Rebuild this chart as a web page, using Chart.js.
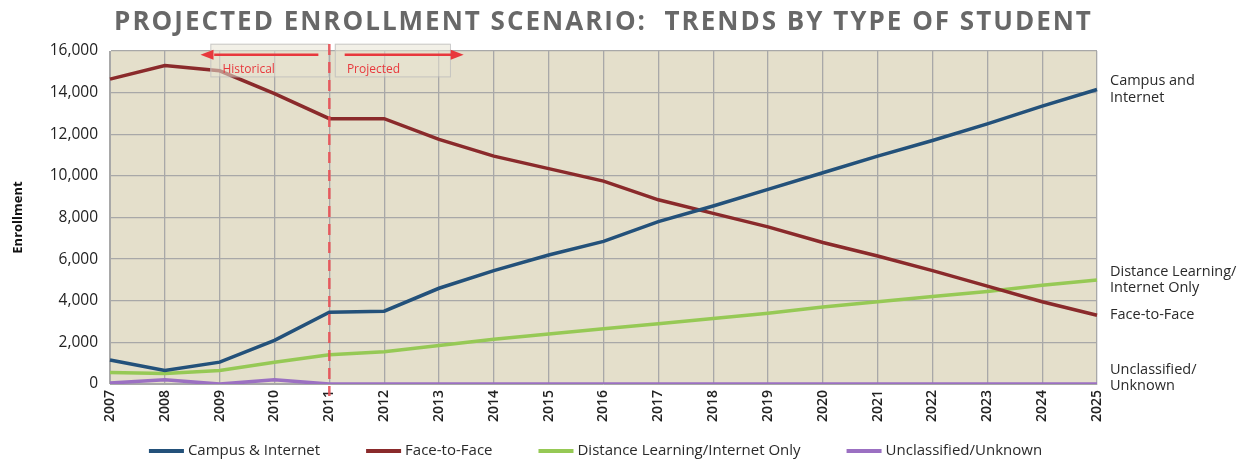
<!DOCTYPE html>
<html>
<head>
<meta charset="utf-8">
<script src="https://cdn.jsdelivr.net/npm/chart.js@4.4.1/dist/chart.umd.min.js"></script>
<style>
  html, body { margin: 0; padding: 0; background: #fff; }
</style>
</head>
<body>
<canvas id="enroll" width="1249" height="462"></canvas>
<script>
const years = ['2007','2008','2009','2010','2011','2012','2013','2014','2015','2016',
               '2017','2018','2019','2020','2021','2022','2023','2024','2025'];

const campusInternet = [1150, 650, 1050, 2100, 3450, 3500, 4600, 5450, 6200, 6850,
                        7800, 8550, 9350, 10150, 10950, 11700, 12500, 13350, 14150];
const faceToFace     = [14650, 15300, 15050, 13950, 12750, 12750, 11750, 10950, 10350, 9750,
                        8850, 8200, 7550, 6800, 6150, 5450, 4700, 3950, 3300];
const distanceOnly   = [550, 500, 650, 1050, 1400, 1550, 1850, 2150, 2400, 2650,
                        2900, 3150, 3400, 3700, 3950, 4200, 4450, 4750, 5000];
const unclassified   = [50, 200, 0, 200, 0, 0, 0, 0, 0, 0,
                        0, 0, 0, 0, 0, 0, 0, 0, 0];

const seriesNames = ['Campus & Internet', 'Face-to-Face', 'Distance Learning/Internet Only', 'Unclassified/Unknown'];
const endLabels = [['Campus and', 'Internet'], ['Face-to-Face'], ['Distance Learning/', 'Internet Only'], ['Unclassified/', 'Unknown']];

const chartTitle = 'PROJECTED ENROLLMENT SCENARIO:  TRENDS BY TYPE OF STUDENT';
const yMax = 16000;
const yStep = 2000;
const splitYear = '2011';

const FONT = "'Open Sans', 'DejaVu Sans', sans-serif";

// beige plot area
const plotBackground = {
  id: 'plotBackground',
  beforeDraw(chart) {
    const a = chart.chartArea, ctx = chart.ctx;
    ctx.save();
    ctx.fillStyle = '#e4dfcb';
    ctx.fillRect(a.left, a.top, a.right - a.left, a.bottom - a.top);
    ctx.restore();
  }
};

// spaced-out title over the plot
const spacedTitle = {
  id: 'spacedTitle',
  afterDraw(chart) {
    const ctx = chart.ctx, a = chart.chartArea;
    ctx.save();
    ctx.font = 'bold 26px ' + FONT;
    ctx.fillStyle = '#686868';
    ctx.letterSpacing = '2px';
    ctx.textAlign = 'center';
    ctx.textBaseline = 'alphabetic';
    ctx.fillText(chartTitle, (a.left + a.right) / 2, 30);
    ctx.restore();
  }
};

// dashed divider + Historical / Projected markers
const splitMarker = {
  id: 'splitMarker',
  afterDatasetsDraw(chart) {
    const ctx = chart.ctx, xs = chart.scales.x, ys = chart.scales.y;
    const i0 = years.indexOf(splitYear);
    const xp = v => xs.getPixelForValue(i0 + v);
    const x = xp(0);
    const red = '#e8383d';

    ctx.save();
    // boxes
    ctx.strokeStyle = 'rgba(190,190,190,0.8)';
    ctx.lineWidth = 1;
    ctx.fillStyle = 'rgba(232,228,212,0.55)';
    const bTop = ys.getPixelForValue(16350), bBot = ys.getPixelForValue(14780);
    [[-2.17, -0.02], [0.1, 2.2]].forEach(([a, b]) => {
      ctx.fillRect(xp(a), bTop, xp(b) - xp(a), bBot - bTop);
      ctx.strokeRect(xp(a) + 0.5, bTop + 0.5, xp(b) - xp(a), bBot - bTop);
    });

    // arrows
    const ay = ys.getPixelForValue(15820);
    ctx.strokeStyle = red;
    ctx.fillStyle = red;
    ctx.lineWidth = 2.5;
    ctx.beginPath();
    ctx.moveTo(xp(-0.2), ay); ctx.lineTo(xp(-2.1), ay);
    ctx.moveTo(xp(0.28), ay); ctx.lineTo(xp(2.3), ay);
    ctx.stroke();
    const head = (tip, dir) => {
      ctx.beginPath();
      ctx.moveTo(tip, ay);
      ctx.lineTo(tip - dir * 13, ay - 5);
      ctx.lineTo(tip - dir * 13, ay + 5);
      ctx.closePath();
      ctx.fill();
    };
    head(xp(-2.35), -1);
    head(xp(2.45), 1);

    ctx.font = '12px ' + FONT;
    ctx.textBaseline = 'alphabetic';
    ctx.fillText('Historical', xp(-1.95), ys.getPixelForValue(14960));
    ctx.fillText('Projected', xp(0.32), ys.getPixelForValue(14960));

    // dashed divider
    ctx.strokeStyle = 'rgba(232,80,85,0.9)';
    ctx.lineWidth = 2.5;
    ctx.setLineDash([11, 7]);
    ctx.beginPath();
    ctx.moveTo(x, chart.chartArea.top - 7);
    ctx.lineTo(x, chart.chartArea.bottom + 12);
    ctx.stroke();
    ctx.restore();
  }
};

// labels at the end of each line
const endLabelPlugin = {
  id: 'endLabelPlugin',
  afterDraw(chart) {
    const ctx = chart.ctx, ys = chart.scales.y;
    const x = chart.chartArea.right + 13;
    ctx.save();
    ctx.font = '14.5px ' + FONT;
    ctx.fillStyle = '#2a2a2a';
    ctx.textBaseline = 'middle';
    chart.data.datasets.forEach((ds, i) => {
      const lines = endLabels[i];
      const yc = ys.getPixelForValue(ds.data[ds.data.length - 1]) - (i === 3 ? 6 : 0);
      const lh = 16.5;
      lines.forEach((t, k) => {
        ctx.fillText(t, x, yc + (k - (lines.length - 1) / 2) * lh);
      });
    });
    ctx.restore();
  }
};

// legend with long line swatches
const lineLegend = {
  id: 'lineLegend',
  afterDraw(chart) {
    const ctx = chart.ctx;
    const sw = 35, gapText = 4, gapItem = 46;
    ctx.save();
    ctx.font = '15px ' + FONT;
    const items = chart.data.datasets.map(ds => ({ ds, w: sw + gapText + ctx.measureText(ds.label).width }));
    const total = items.reduce((s, it) => s + it.w, 0) + gapItem * (items.length - 1);
    let x = (chart.chartArea.left + chart.chartArea.right) / 2 - total / 2 - 8;
    const y = chart.height - 11;
    ctx.textBaseline = 'middle';
    items.forEach(it => {
      ctx.fillStyle = it.ds.borderColor;
      ctx.fillRect(x, y - 2, sw, 4);
      ctx.fillStyle = '#2a2a2a';
      ctx.fillText(it.ds.label, x + sw + gapText, y);
      x += it.w + gapItem;
    });
    ctx.restore();
  }
};

const lineStyle = (label, data, color) => ({
  label: label,
  data: data,
  borderColor: color,
  backgroundColor: color,
  borderWidth: 3.5,
  pointRadius: 0,
  tension: 0
});

const ctx = document.getElementById('enroll');

new Chart(ctx, {
  type: 'line',
  data: {
    labels: years,
    datasets: [
      lineStyle(seriesNames[0], campusInternet, '#23517a'),
      lineStyle(seriesNames[1], faceToFace, '#8a2a2b'),
      lineStyle(seriesNames[2], distanceOnly, '#96c955'),
      lineStyle(seriesNames[3], unclassified, '#9b70c2')
    ]
  },
  options: {
    responsive: false,
    animation: false,
    layout: { padding: { left: 0, right: 152, top: 51, bottom: 32 } },
    scales: {
      x: {
        offset: false,
        grid: { color: '#a8a8a8', lineWidth: 1.3, drawTicks: false },
        border: { color: '#a8a8a8' },
        ticks: {
          minRotation: 90,
          maxRotation: 90,
          autoSkip: false,
          padding: 6,
          color: '#222',
          font: { family: FONT, size: 14, weight: '600' }
        },
        afterFit(scale) { scale.height = 46; }
      },
      y: {
        min: 0,
        max: yMax,
        grid: { color: '#a8a8a8', lineWidth: 1.3, drawTicks: false },
        border: { color: '#a8a8a8' },
        ticks: {
          stepSize: yStep,
          padding: 12,
          color: '#222',
          font: { family: FONT, size: 15.5 },
          callback: v => v.toLocaleString('en-US')
        },
        title: {
          display: true,
          text: 'Enrollment',
          color: '#111',
          font: { family: FONT, size: 13, weight: 'bold' },
          padding: { top: 10, bottom: 0 }
        },
        afterFit(scale) { scale.width = 110; }
      }
    },
    plugins: {
      title: { display: false },
      legend: { display: false },
      tooltip: { enabled: false }
    }
  },
  plugins: [plotBackground, splitMarker, endLabelPlugin, lineLegend, spacedTitle]
});
</script>
</body>
</html>
